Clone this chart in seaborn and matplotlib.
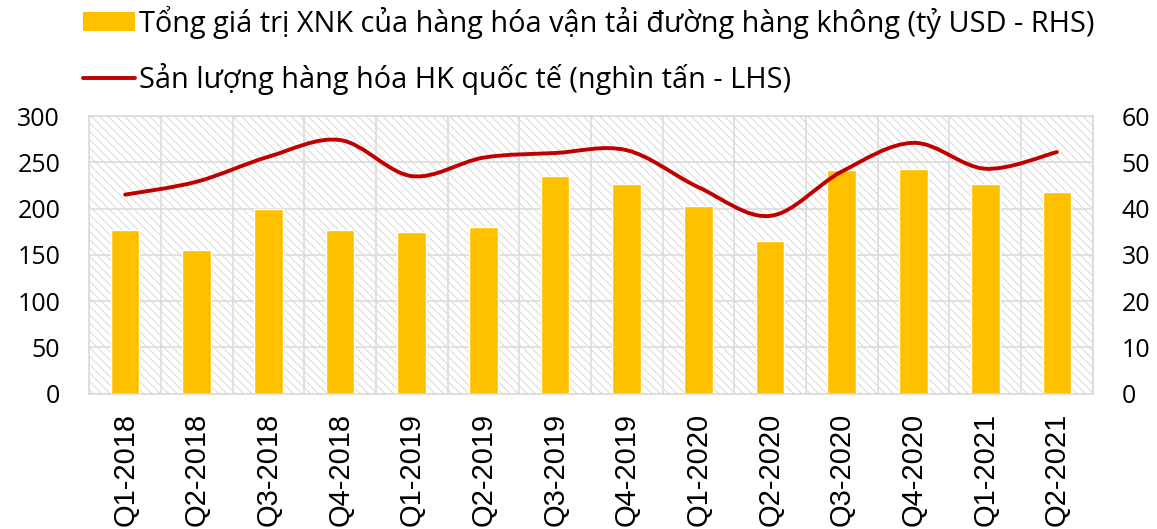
import numpy as np
import matplotlib
matplotlib.use("Agg")
import matplotlib.pyplot as plt
import seaborn as sns
from matplotlib.path import Path
from matplotlib.patches import PathPatch, Patch
from matplotlib.lines import Line2D
from matplotlib.ticker import FixedLocator

quarters = ["Q1-2018", "Q2-2018", "Q3-2018", "Q4-2018",
            "Q1-2019", "Q2-2019", "Q3-2019", "Q4-2019",
            "Q1-2020", "Q2-2020", "Q3-2020", "Q4-2020",
            "Q1-2021", "Q2-2021"]
# tỷ USD, right axis
trade_value = [35.4, 31.0, 40.0, 35.4, 34.9, 36.1, 47.1,
               45.3, 40.5, 33.0, 48.4, 48.5, 45.4, 43.5]
# nghìn tấn, left axis
cargo_volume = [215, 229, 256, 274, 235, 255, 260,
                263, 223, 192, 240, 271, 243, 261]

bar_label = "Tổng giá trị XNK của hàng hóa vận tải đường hàng không (tỷ USD - RHS)"
line_label = "Sản lượng hàng hóa HK quốc tế (nghìn tấn - LHS)"

BAR_COLOR = "#FFC000"
LINE_COLOR = "#C00000"
GRID_COLOR = "#d9d9d9"

sns.set_style("white")
plt.rcParams["font.family"] = ["Open Sans", "DejaVu Sans"]
plt.rcParams["hatch.linewidth"] = 0.6
plt.rcParams["text.color"] = "black"
plt.rcParams["xtick.labelcolor"] = "black"
plt.rcParams["ytick.labelcolor"] = "black"

fig = plt.figure(figsize=(11.57, 5.29), dpi=100)
ax = fig.add_axes([0.0772, 0.2561, 0.8672, 0.5246])

# hatched plot background
ax.patch.set_facecolor("white")
ax.patch.set_edgecolor("#d2d2d2")
ax.patch.set_linewidth(0)
ax.patch.set_hatch("\\\\\\\\")

sns.barplot(x=quarters, y=trade_value, color=BAR_COLOR, saturation=1,
            width=0.4, ax=ax, zorder=2)
ax.set_xlabel("")
ax.set_ylabel("")
ax.set_xlim(-0.5, len(quarters) - 0.5)
ax.set_ylim(0, 60)
ax.set_yticks(range(0, 61, 10))

ax.xaxis.set_minor_locator(FixedLocator(np.arange(-0.5, len(quarters), 1.0)))
ax.set_axisbelow(True)
ax.grid(True, axis="y", which="major", color=GRID_COLOR, lw=1.1)
ax.grid(True, axis="x", which="minor", color=GRID_COLOR, lw=1.1)
ax.grid(False, axis="x", which="major")
for s in ax.spines.values():
    s.set_visible(True)
    s.set_color(GRID_COLOR)
    s.set_linewidth(1.1)

# line on the left axis, drawn above the bars
ax2 = ax.twinx()
ax2.yaxis.tick_left()
ax.yaxis.tick_right()
ax2.set_ylim(0, 300)
ax2.set_yticks(range(0, 301, 50))
ax2.tick_params(axis="y", length=0, pad=21, labelsize=18, labelcolor="black")
for s in ax2.spines.values():
    s.set_visible(False)

ax.tick_params(axis="x", which="major", length=0, pad=14, labelsize=21,
               labelrotation=90, labelcolor="black")
ax.tick_params(axis="x", which="minor", length=7, width=1.1, color=GRID_COLOR)
ax.tick_params(axis="y", length=0, pad=21, labelsize=18, labelcolor="black")
for lbl in ax.get_xticklabels():
    lbl.set_fontfamily("Liberation Sans")

# smoothed line like excel (catmull-rom as bezier segments)
pts = np.column_stack([np.arange(len(quarters)), cargo_volume]).astype(float)
verts = [pts[0]]
codes = [Path.MOVETO]
n = len(pts)
for i in range(n - 1):
    p0 = pts[max(i - 1, 0)]
    p1 = pts[i]
    p2 = pts[i + 1]
    p3 = pts[min(i + 2, n - 1)]
    verts += [p1 + (p2 - p0) / 6, p2 - (p3 - p1) / 6, p2]
    codes += [Path.CURVE4] * 3
ax2.add_patch(PathPatch(Path(verts, codes), fill=False, edgecolor=LINE_COLOR,
                        lw=2.8, capstyle="round", joinstyle="round", zorder=3))

handles = [Patch(facecolor=BAR_COLOR, edgecolor="none"),
           Line2D([], [], color=LINE_COLOR, lw=2.8, solid_capstyle="round")]
fig.legend(handles, [bar_label, line_label], loc="upper left",
           bbox_to_anchor=(0.0715, 0.989), frameon=False, fontsize=20.8,
           handlelength=1.8, handleheight=0.65, handletextpad=0.15,
           labelspacing=0.85, borderpad=0, borderaxespad=0)

fig.savefig("out.png", dpi=100)
